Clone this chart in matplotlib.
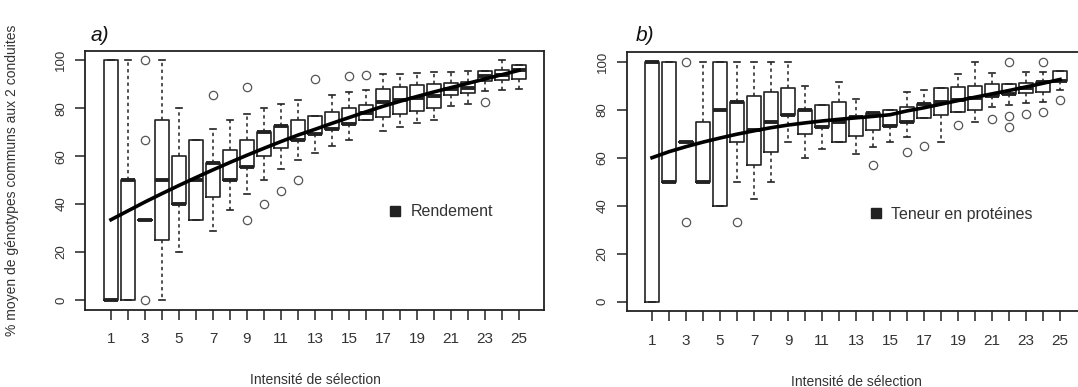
import matplotlib
matplotlib.use("Agg")
import matplotlib.pyplot as plt
from matplotlib.lines import Line2D

plt.rcParams['font.family'] = ['Liberation Sans', 'DejaVu Sans']

# intensite de selection
intensite = list(range(1, 26))
xtick_labels = [str(i) if i % 2 == 1 else '' for i in intensite]

# a) Rendement : stats des boites (q1, mediane, q3, moustaches, points isoles)
a_q1 = [0, 0, 33.3, 25, 40, 33.3, 42.9, 50, 55.6, 60, 63.6, 66.7, 69.2, 71.4, 73.3,
        75, 76.5, 77.8, 78.9, 80, 85.7, 86.4, 91.3, 91.7, 92]
a_med = [0, 50, 33.3, 50, 40, 50, 57.1, 50, 55.6, 70, 72.7, 66.7, 69.2, 71.4, 73.3,
         78.1, 82.4, 83.3, 84.2, 85, 88.1, 88.6, 93.5, 93.8, 96]
a_q3 = [100, 50, 33.3, 75, 60, 66.7, 57.1, 62.5, 66.7, 70, 72.7, 75, 76.9, 78.6, 80,
        81.25, 88.2, 88.9, 89.5, 90, 90.5, 90.9, 95.7, 95.8, 98]
a_lo = [0, 0, 33.3, 0, 20, 33.3, 28.6, 37.5, 44.4, 50, 54.5, 58.3, 61.5, 64.3, 66.7,
        75, 70.6, 72.2, 73.7, 75, 81, 81.8, 87, 87.5, 88]
a_hi = [100, 100, 33.3, 100, 80, 66.7, 71.4, 75, 77.8, 80, 81.8, 83.3, 76.9, 85.7, 86.7,
        87.5, 94.1, 94.4, 94.7, 95, 95.2, 95.5, 95.7, 100, 98]
a_out = [[], [], [100, 66.7, 0], [], [], [], [85.7], [], [88.9, 33.3], [40], [45.5], [50],
         [92.3], [], [93.3], [93.75], [], [], [], [], [], [], [82.6], [], []]
a_fit = [33.5, 37.2, 40.9, 44.4, 47.8, 51.1, 54.3, 57.4, 60.4, 63.3, 66.1, 68.8, 71.2,
         73.7, 76.1, 78.5, 80.8, 82.9, 84.9, 86.8, 88.6, 90.4, 92.2, 94.0, 95.8]

# b) Teneur en proteines
b_q1 = [0, 50, 66.7, 50, 40, 66.7, 57.1, 62.5, 77.8, 70, 72.7, 66.7, 69.2, 71.4, 73.3,
        75, 76.5, 77.8, 78.9, 80, 85.7, 86.4, 87, 87.5, 92]
b_med = [100, 50, 66.7, 50, 80, 83.3, 71.4, 75, 77.8, 80, 72.7, 75, 76.9, 78.6, 73.3,
         75, 82.4, 83.3, 84.2, 85, 85.7, 86.4, 89.1, 91.7, 92]
b_q3 = [100, 100, 66.7, 75, 100, 83.3, 85.7, 87.5, 88.9, 80, 81.8, 83.3, 76.9, 78.6, 80,
        81.25, 82.4, 88.9, 89.5, 90, 90.5, 90.9, 91.3, 91.7, 96]
b_lo = [0, 50, 66.7, 50, 40, 50, 42.9, 50, 66.7, 60, 63.6, 66.7, 61.5, 64.3, 66.7,
        68.75, 76.5, 66.7, 78.9, 75, 81, 81.8, 82.6, 83.3, 88]
b_hi = [100, 100, 66.7, 100, 100, 100, 100, 100, 100, 90, 81.8, 91.7, 84.6, 78.6, 80,
        87.5, 88.2, 88.9, 94.7, 100, 95.2, 90.9, 95.7, 95.8, 96]
b_out = [[], [], [100, 33.3], [], [], [33.3], [], [], [], [], [], [], [], [57.1], [],
         [62.5], [64.7], [], [73.7], [], [76.2], [100, 77.3, 72.7], [78.3], [100, 79.2], [84]]
b_fit = [60, 62.5, 64.6, 66.5, 68.2, 69.8, 71.2, 72.5, 73.6, 74.5, 75.3, 76.0, 76.6,
         77.2, 77.9, 79.5, 80.8, 82.3, 83.8, 85.2, 86.6, 88.0, 89.5, 91.0, 92.6]

ink = '#222222'
txt = '#333333'


def draw(ax, q1, med, q3, lo, hi, out, fit, legend_label, leg_x, leg_y):
    stats = []
    for i in range(len(intensite)):
        stats.append(dict(q1=q1[i], med=med[i], q3=q3[i], whislo=lo[i], whishi=hi[i],
                          fliers=out[i]))
    ax.bxp(stats, positions=intensite, widths=0.8, capwidths=0.4, manage_ticks=False,
           boxprops=dict(color=ink, lw=1.2),
           medianprops=dict(color=ink, lw=2.8, solid_capstyle='butt'),
           whiskerprops=dict(color=ink, lw=1.1, linestyle=(0, (2.2, 2.2))),
           capprops=dict(color=ink, lw=1.2),
           flierprops=dict(marker='o', markerfacecolor='none', markeredgecolor='#555555',
                           markersize=6, markeredgewidth=0.9))
    ax.plot(intensite, fit, color='black', lw=2.6, zorder=5)

    ax.set_xlim(-0.5, 26.5)
    ax.set_ylim(-4, 104)
    ax.set_xticks(intensite)
    ax.set_xticklabels(xtick_labels, fontsize=11, color=txt)
    ax.set_yticks([0, 20, 40, 60, 80, 100])
    ax.set_yticklabels(['0', '20', '40', '60', '80', '100'], rotation=90, va='center',
                       fontsize=9.5, color=txt)
    ax.tick_params(axis='x', length=7, width=1.1, color=ink, pad=9)
    ax.tick_params(axis='y', length=7, width=1.1, color=ink, pad=6)
    for s in ax.spines.values():
        s.set_color(ink)
        s.set_linewidth(1.3)

    ax.set_xlabel('Intensité de sélection', fontsize=10, color=txt)
    ax.xaxis.set_label_coords(0.5, -0.272)
    ax.xaxis.label.set_va('center')

    h = Line2D([], [], marker='s', color=ink, linestyle='none', markersize=7)
    ax.legend([h], [legend_label], loc='center left', bbox_to_anchor=(leg_x, leg_y),
              frameon=False, fontsize=11.5, handlelength=1.0, handletextpad=0.5,
              borderpad=0, borderaxespad=0, labelcolor=txt)


fig = plt.figure(figsize=(10.78, 3.87), dpi=100)
ax1 = fig.add_axes([0.0793, 0.2000, 0.4258, 0.6690])
ax2 = fig.add_axes([0.5812, 0.1956, 0.4258, 0.6698])

draw(ax1, a_q1, a_med, a_q3, a_lo, a_hi, a_out, a_fit, 'Rendement', 0.656, 0.377)
draw(ax2, b_q1, b_med, b_q3, b_lo, b_hi, b_out, b_fit, 'Teneur en protéines', 0.525, 0.374)

ax1.set_ylabel('% moyen de génotypes communs aux 2 conduites', fontsize=10, color=txt)
ax1.yaxis.set_label_coords(-0.145, 0.5)

fig.text(0.084, 0.895, 'a)', fontsize=15, style='italic', color='#111111')
fig.text(0.590, 0.895, 'b)', fontsize=15, style='italic', color='#111111')

fig.savefig('out.png', dpi=100)
